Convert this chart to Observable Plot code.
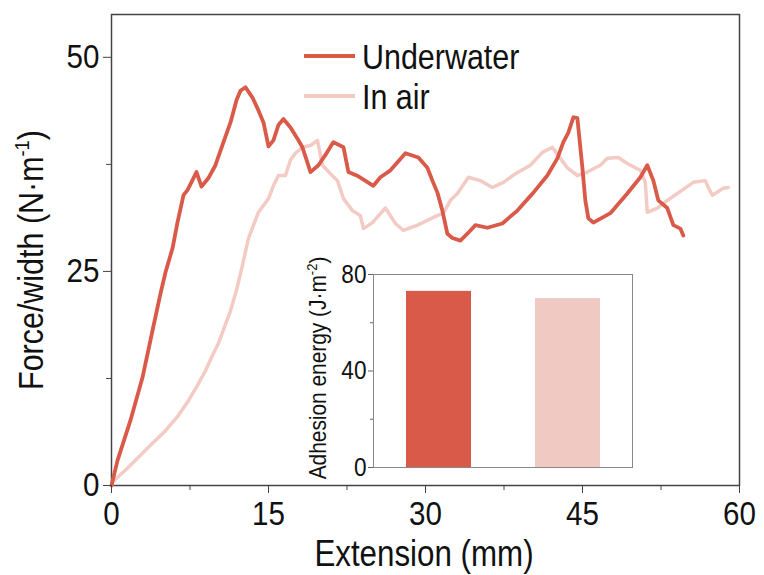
<!DOCTYPE html>
<html>
<head>
<meta charset="utf-8">
<script src="https://cdn.jsdelivr.net/npm/d3@7"></script>
<script src="https://cdn.jsdelivr.net/npm/@observablehq/plot@0.6"></script>
<style>
  html, body { margin: 0; padding: 0; background: #fff; }
  #chart { position: relative; width: 764px; height: 575px; }
  #inset { position: absolute; left: 280px; top: 260px; }
</style>
</head>
<body>
<div id="chart"><div id="inset"></div></div>
<script>
// Peel test: force per unit width against extension
const underwaterX = [0.00, 0.57, 1.81, 2.96, 3.92, 4.68, 5.16, 5.83, 6.30, 6.88, 7.26, 8.12, 8.60, 9.26, 9.93, 10.70, 11.37, 11.94, 12.32, 12.80, 13.47, 14.04, 14.52, 15.00, 15.47, 15.95, 16.43, 17.10, 17.77, 18.24, 18.72, 19.01, 19.77, 20.44, 21.20, 22.16, 22.64, 23.59, 25.02, 25.69, 26.65, 28.08, 29.32, 30.18, 30.66, 31.14, 31.61, 32.09, 32.57, 33.33, 34.00, 34.77, 35.91, 37.34, 38.78, 40.31, 41.64, 42.60, 43.17, 43.65, 44.13, 44.51, 44.99, 45.27, 45.56, 46.04, 47.66, 49.28, 50.53, 51.19, 51.77, 52.24, 53.10, 53.68, 54.35, 54.63];
const underwaterY = [0.0, 2.9, 7.6, 12.6, 18.1, 22.4, 24.9, 27.7, 30.7, 33.9, 34.5, 36.6, 34.9, 35.9, 37.4, 40.1, 42.4, 45.0, 46.1, 46.5, 45.3, 43.8, 42.4, 39.6, 40.3, 42.1, 42.8, 41.8, 40.5, 39.5, 37.7, 36.6, 37.4, 38.6, 40.1, 39.5, 36.6, 36.1, 35.0, 36.0, 36.8, 38.8, 38.3, 37.1, 35.6, 34.2, 32.1, 29.4, 28.9, 28.6, 29.4, 30.4, 30.1, 30.6, 32.1, 34.2, 36.2, 38.2, 40.1, 41.2, 43.0, 42.9, 37.1, 33.3, 31.2, 30.7, 31.8, 34.1, 36.0, 37.4, 35.6, 33.3, 32.4, 30.4, 30.0, 29.2];

const airX = [0.00, 0.10, 1.34, 2.58, 3.72, 5.16, 6.40, 7.35, 8.21, 8.98, 9.65, 10.22, 10.79, 11.37, 11.94, 12.51, 13.09, 14.04, 15.00, 15.47, 15.95, 16.62, 17.10, 17.57, 18.24, 19.01, 19.68, 20.15, 20.92, 21.59, 22.16, 23.02, 23.78, 24.07, 24.93, 26.17, 27.13, 27.89, 29.23, 30.75, 31.71, 32.38, 33.05, 34.10, 35.24, 36.39, 37.44, 38.59, 40.02, 41.17, 42.12, 42.89, 43.55, 44.51, 45.46, 46.70, 47.37, 48.42, 49.28, 50.53, 51.00, 51.19, 52.15, 53.10, 54.06, 55.59, 56.73, 57.02, 57.40, 58.45, 58.93];
const airY = [0.0, 0.4, 1.8, 3.3, 4.7, 6.4, 8.2, 9.9, 11.7, 13.4, 15.2, 16.6, 18.5, 20.4, 22.8, 25.7, 28.9, 31.9, 33.5, 35.0, 36.2, 36.2, 38.0, 38.8, 39.5, 39.7, 40.3, 37.4, 36.4, 35.6, 33.5, 32.1, 31.5, 30.0, 30.7, 32.4, 30.6, 29.8, 30.4, 31.3, 31.8, 33.3, 34.1, 36.0, 35.6, 34.8, 35.4, 36.4, 37.4, 38.9, 39.5, 38.2, 37.1, 36.2, 36.6, 37.4, 38.2, 38.3, 37.6, 36.8, 35.4, 31.9, 32.4, 33.3, 34.1, 35.4, 35.6, 34.8, 33.9, 34.7, 34.8];

// Axis ticks
const xTicks = [0, 15, 30, 45, 60];
const xMinorTicks = [7.5, 22.5, 37.5, 52.5];
const yTicks = [0, 25, 50];
const yMinorTicks = [12.5, 37.5];

// Inset: adhesion energy per condition
const conditions = ["Underwater", "In air"];
const adhesionEnergy = [73, 70];
const energyTicks = [0, 40, 80];
const energyMinorTicks = [20, 60];

const darkRed = "#d95a48";
const lineLight = "#f3cbc4";
const barLight = "#f0c9c2";
const font = "'Liberation Sans', Arial, sans-serif";

// Squeeze every label horizontally to get a narrow sans look
function condense(root, k = 0.87) {
  d3.select(root).selectAll("text").each(function () {
    const t = d3.select(this);
    const xa = t.attr("x");
    let x = 0;
    if (xa != null && /^-?[\d.]+$/.test(xa)) { x = +xa; t.attr("x", null); }
    const tr = t.attr("transform") || "";
    t.attr("transform", `${tr} translate(${x},0) scale(${k},1)`);
  });
}

const underwater = underwaterX.map((x, i) => ({x, y: underwaterY[i]}));
const inAir = airX.map((x, i) => ({x, y: airY[i]}));

const main = Plot.plot({
  width: 764,
  height: 575,
  marginLeft: 111,
  marginRight: 25,
  marginTop: 14,
  marginBottom: 90,
  x: {domain: [0, 60]},
  y: {domain: [0, 55]},
  style: {fontFamily: font, fontSize: "34px", color: "#111", background: "#fff", overflow: "visible"},
  marks: [
    Plot.frame({stroke: "#444", strokeWidth: 1.5}),
    Plot.line(inAir, {x: "x", y: "y", stroke: lineLight, strokeWidth: 3.5, strokeLinejoin: "round"}),
    Plot.line(underwater, {x: "x", y: "y", stroke: darkRed, strokeWidth: 3.8, strokeLinejoin: "round"}),
    Plot.axisX({ticks: xTicks, tickSize: 8, tickPadding: 7, label: null, stroke: "#444", fontSize: 34}),
    Plot.axisX({ticks: xMinorTicks, tickSize: 5, text: null, label: null, stroke: "#444"}),
    Plot.axisY({ticks: yTicks, tickSize: 8, tickPadding: 4, label: null, stroke: "#444", fontSize: 34}),
    Plot.axisY({ticks: yMinorTicks, tickSize: 5, text: null, label: null, stroke: "#444"})
  ]
});

const chart = document.getElementById("chart");
chart.insertBefore(main, chart.firstChild);

const svg = d3.select(main);

// Axis titles
svg.append("text")
  .attr("transform", "translate(424,566)")
  .attr("text-anchor", "middle")
  .attr("font-size", 36)
  .attr("fill", "#111")
  .text("Extension (mm)");

const yTitle = svg.append("text")
  .attr("transform", "translate(43,260) rotate(-90)")
  .attr("text-anchor", "middle")
  .attr("font-size", 35)
  .attr("fill", "#111");
yTitle.append("tspan").text("Force/width (N·m");
yTitle.append("tspan").attr("dy", -14).attr("font-size", 21).text("-1");
yTitle.append("tspan").attr("dy", 14).text(")");

// Legend
const legend = svg.append("g").attr("font-size", 35).attr("fill", "#111");
[["Underwater", darkRed, 56], ["In air", lineLight, 96]].forEach(([name, color, y]) => {
  legend.append("line").attr("x1", 304).attr("x2", 355).attr("y1", y).attr("y2", y)
    .attr("stroke", color).attr("stroke-width", 3.8);
  legend.append("text").attr("transform", `translate(362,${y})`)
    .attr("text-anchor", "start").attr("dy", "0.36em").text(name);
});

condense(main);

// Inset bar chart
const bars = conditions.map((c, i) => ({condition: c, energy: adhesionEnergy[i]}));
const inset = Plot.plot({
  width: 360,
  height: 215,
  marginLeft: 93,
  marginRight: 8,
  marginTop: 14,
  marginBottom: 8,
  x: {type: "band", domain: conditions, paddingInner: 0.5, paddingOuter: 0.25, axis: null},
  y: {domain: [0, 80]},
  style: {fontFamily: font, fontSize: "26px", color: "#111", background: "transparent", overflow: "visible"},
  marks: [
    Plot.frame({fill: "#fff", stroke: "#888", strokeWidth: 1}),
    Plot.barY(bars, {x: "condition", y: "energy", fill: (d) => d.condition === "Underwater" ? darkRed : barLight}),
    Plot.axisY({ticks: energyTicks, tickSize: 5, tickPadding: 2, label: null, stroke: "#666", fontSize: 26}),
    Plot.axisY({ticks: energyMinorTicks, tickSize: 3, text: null, label: null, stroke: "#666"})
  ]
});
document.getElementById("inset").appendChild(inset);

const insetTitle = d3.select(inset).append("text")
  .attr("transform", "translate(46,108) rotate(-90)")
  .attr("text-anchor", "middle")
  .attr("font-size", 24)
  .attr("fill", "#111");
insetTitle.append("tspan").text("Adhesion energy (J·m");
insetTitle.append("tspan").attr("dy", -9).attr("font-size", 15).text("-2");
insetTitle.append("tspan").attr("dy", 9).text(")");

condense(inset);
</script>
</body>
</html>
